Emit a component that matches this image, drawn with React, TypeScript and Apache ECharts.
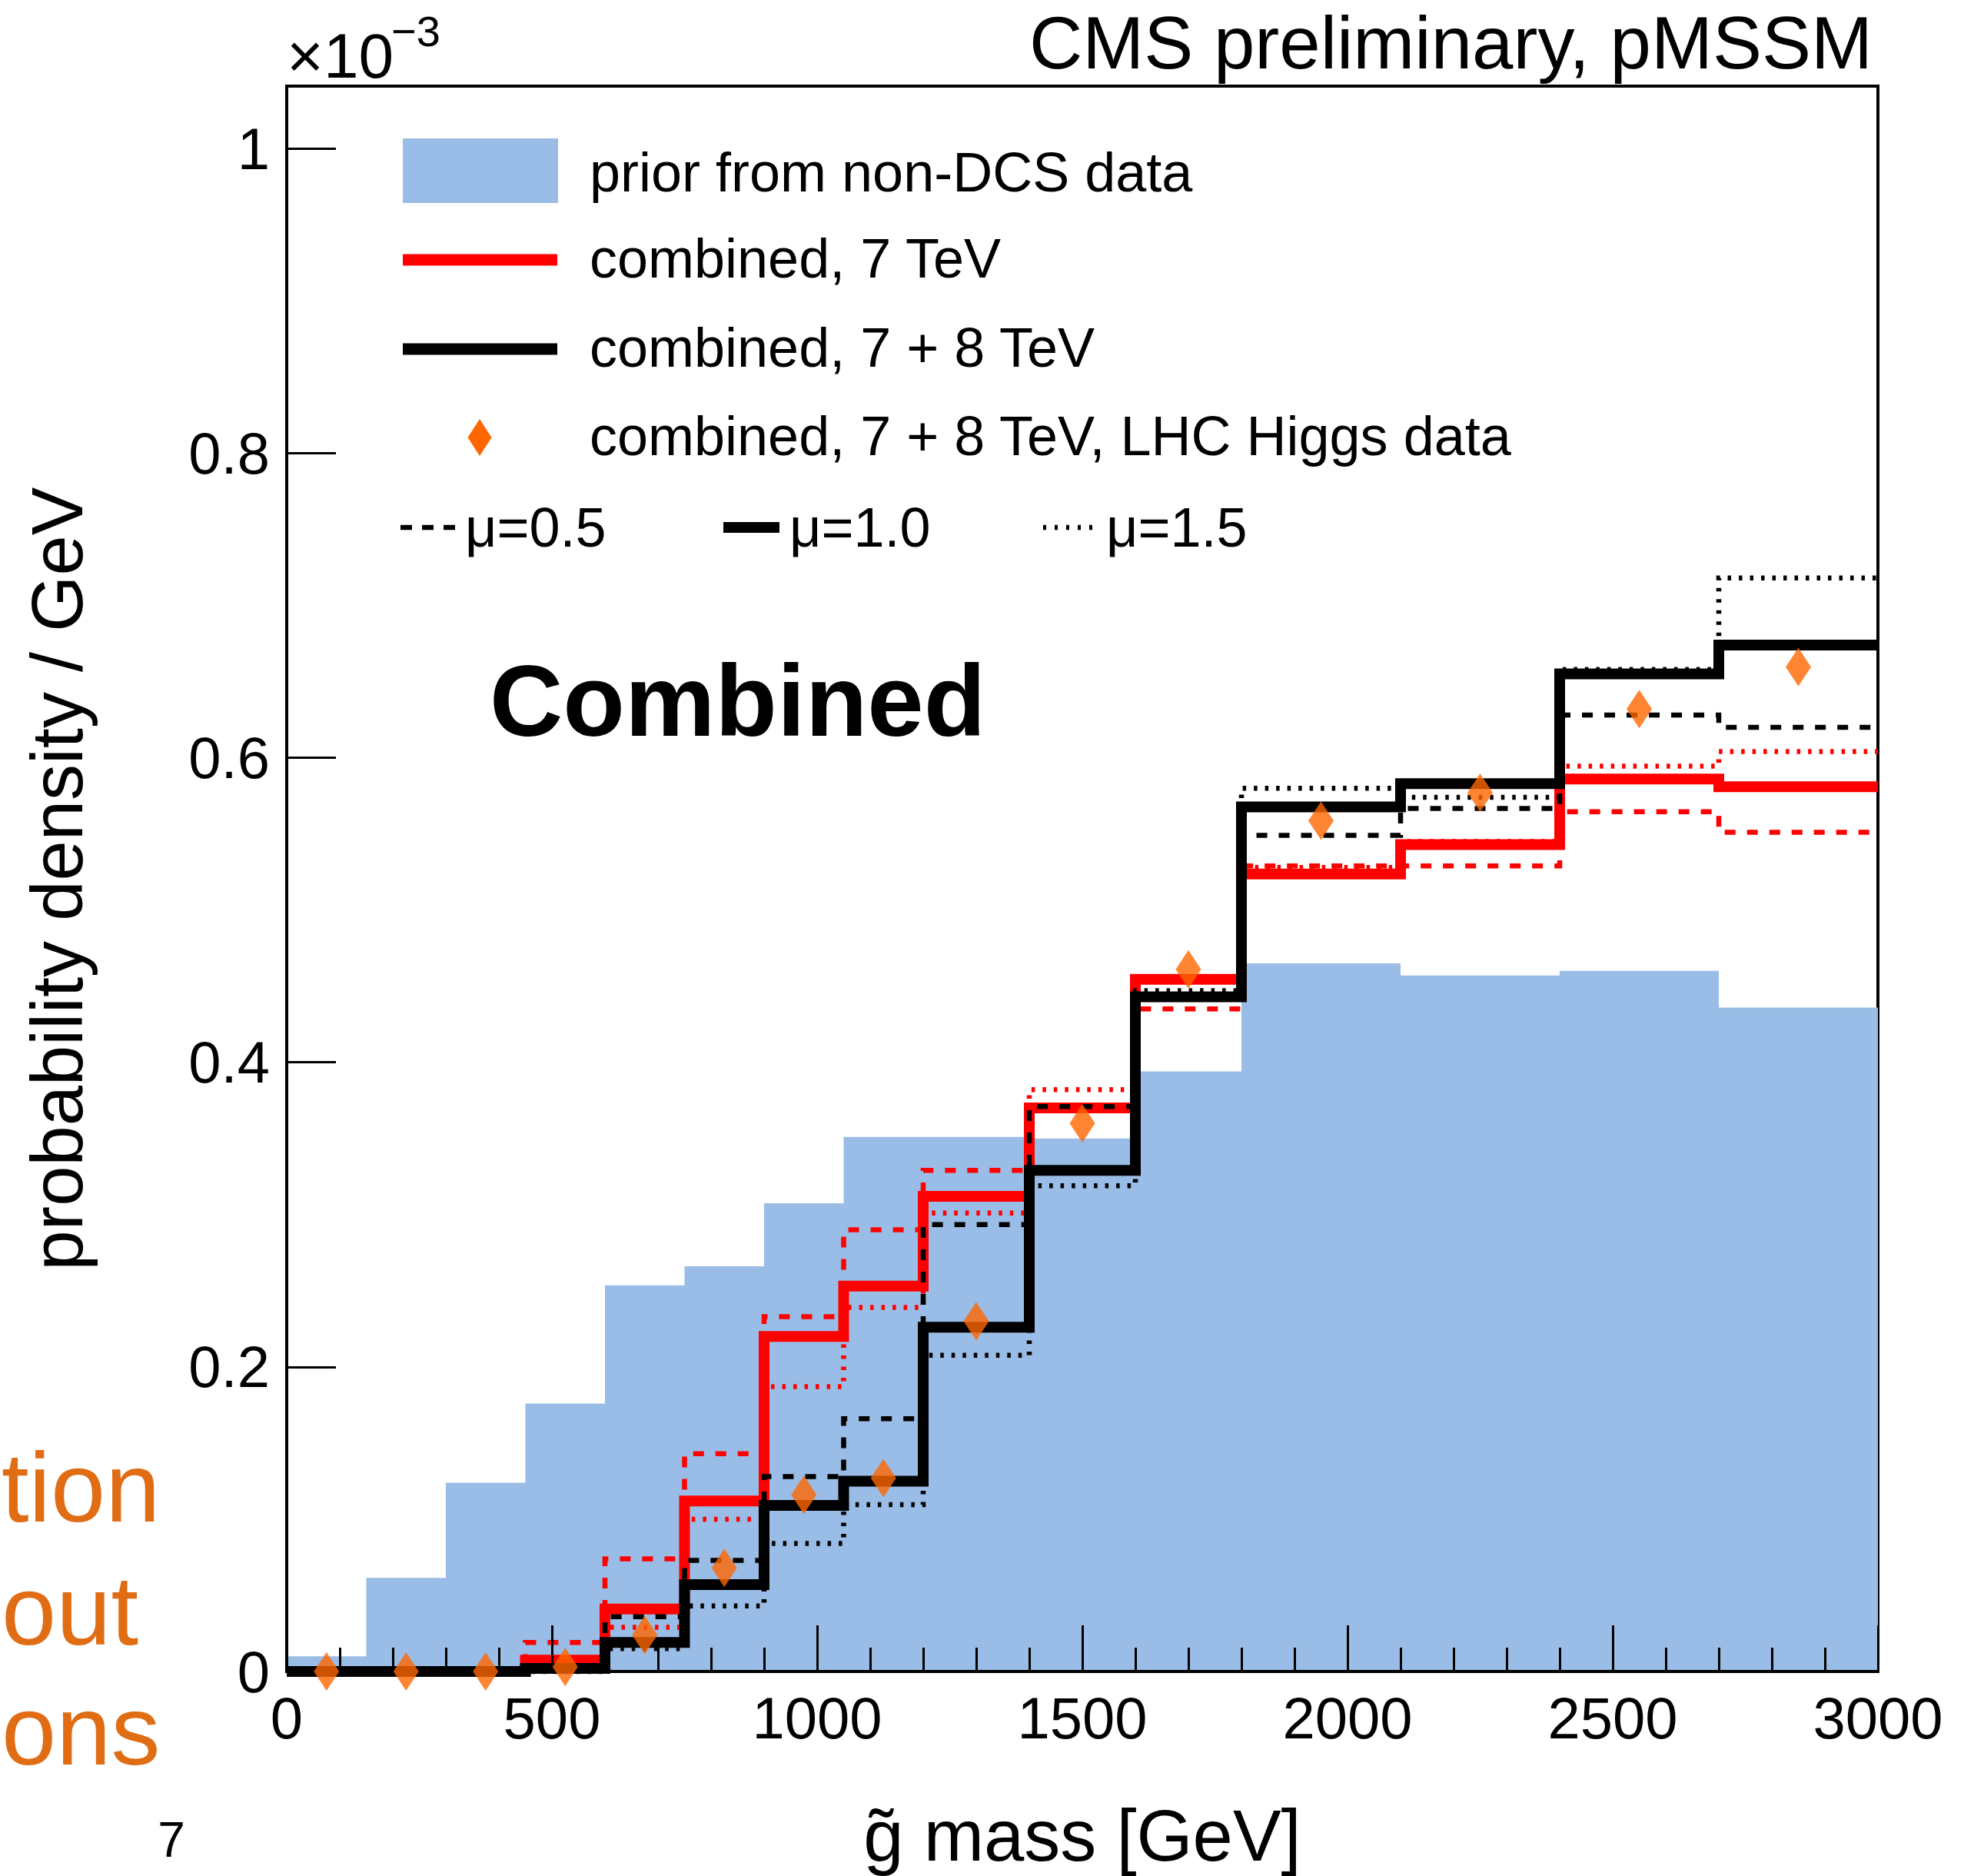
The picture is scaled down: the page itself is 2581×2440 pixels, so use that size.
import React, { useEffect, useRef } from "react";
import * as echarts from "echarts";

// ---------- data (values in units of 10^-3 / GeV) ----------
const BIN_EDGES = [0, 150, 300, 450, 600, 750, 900, 1050, 1200, 1400, 1600, 1800, 2100, 2400, 2700, 3000];

const PRIOR_NON_DCS = [0.010, 0.0615, 0.124, 0.176, 0.2535, 0.266, 0.3075, 0.351, 0.351, 0.350, 0.394, 0.465, 0.457, 0.460, 0.436];

const COMB_7_MU10 = [0, 0, 0, 0.0075, 0.041, 0.112, 0.220, 0.253, 0.312, 0.370, 0.4545, 0.5237, 0.543, 0.586, 0.581];
const COMB_7_MU05 = [0, 0, 0, 0.019, 0.074, 0.143, 0.233, 0.290, 0.329, 0.370, 0.435, 0.529, 0.529, 0.5646, 0.551];
const COMB_7_MU15 = [0, 0, 0, 0.005, 0.029, 0.100, 0.187, 0.239, 0.301, 0.382, 0.455, 0.528, 0.545, 0.5944, 0.604];

const COMB_78_MU10 = [0, 0, 0, 0.002, 0.019, 0.057, 0.109, 0.125, 0.226, 0.329, 0.443, 0.5677, 0.583, 0.655, 0.674];
const COMB_78_MU05 = [0, 0, 0, 0.003, 0.036, 0.073, 0.128, 0.166, 0.2935, 0.371, 0.442, 0.549, 0.5667, 0.628, 0.620];
const COMB_78_MU15 = [0, 0, 0, 0, 0.015, 0.043, 0.084, 0.1096, 0.2076, 0.319, 0.447, 0.580, 0.574, 0.658, 0.718];

const COMB_78_HIGGS = [0, 0, 0, 0.003, 0.024, 0.068, 0.116, 0.127, 0.230, 0.360, 0.461, 0.5586, 0.577, 0.632, 0.6596];

const X_MIN = 0;
const X_MAX = 3000;
const X_INTERVAL = 500;
const Y_MIN = 0;
const Y_MAX = 1.041;
const Y_INTERVAL = 0.2;

// ---------- helpers ----------
function stepPoints(vals: number[]): number[][] {
  const pts: number[][] = [];
  vals.forEach((v, i) => {
    pts.push([BIN_EDGES[i], v]);
    pts.push([BIN_EDGES[i + 1], v]);
  });
  return pts;
}
function centerPoints(vals: number[]): number[][] {
  return vals.map((v, i) => [(BIN_EDGES[i] + BIN_EDGES[i + 1]) / 2, v]);
}

const FONT = '"Liberation Sans", Arial, Helvetica, sans-serif';
const RED = "#ff0000";
const BLACK = "#000000";
const BLUE = "#99bde6";
const ORANGE = "#ff6600";
const SLIDE_ORANGE = "#e06c14";
const DASH = [14, 15];
const DOT = [4.5, 10];

function txt(text: string, x: number, y: number, size: number, opts: any = {}) {
  return {
    type: "text",
    x,
    y,
    rotation: opts.rotation || 0,
    z: 100,
    style: {
      text,
      fill: opts.color || "#000",
      font: `${opts.weight || "normal"} ${size}px ${FONT}`,
      fontSize: size,
      fontFamily: FONT,
      fontWeight: opts.weight || "normal",
      textAlign: opts.align || "left",
      align: opts.align || "left",
      textVerticalAlign: "middle",
      verticalAlign: "middle",
    },
  };
}
function seg(x1: number, x2: number, y: number, width: number, color: string, dash?: number[]) {
  return {
    type: "line",
    z: 100,
    shape: { x1, y1: y, x2, y2: y },
    style: { stroke: color, lineWidth: width, lineDash: dash || null },
  };
}

function lineSeries(name: string, vals: number[], color: string, width: number, dash?: number[]) {
  return {
    name,
    type: "line",
    data: stepPoints(vals),
    showSymbol: false,
    symbol: "none",
    clip: false,
    z: 2,
    lineStyle: { color, width, type: dash || "solid", join: "miter", cap: "butt" },
    emphasis: { disabled: true },
    silent: true,
  };
}

export default function App() {
  const ref = useRef<HTMLDivElement>(null);

  useEffect(() => {
    if (!ref.current) return;
    const chart = echarts.init(ref.current, null, { renderer: "svg" });

    const option: any = {
      animation: false,
      backgroundColor: "#ffffff",
      textStyle: { fontFamily: FONT },
      grid: {
        left: 373,
        right: 138,
        top: 112,
        bottom: 266,
        show: true,
        borderColor: "#000",
        borderWidth: 4,
        backgroundColor: "transparent",
        containLabel: false,
        outerBoundsMode: "none",
      },
      xAxis: {
        type: "value",
        min: X_MIN,
        max: X_MAX,
        interval: X_INTERVAL,
        z: 5,
        axisLine: { show: true, onZero: false, lineStyle: { color: "#000", width: 4 } },
        axisTick: { show: true, inside: true, length: 60, lineStyle: { color: "#000", width: 3 } },
        minorTick: { show: true, splitNumber: 5, length: 31, lineStyle: { color: "#000", width: 3 } },
        splitLine: { show: false },
        minorSplitLine: { show: false },
        axisLabel: {
          color: "#000",
          fontSize: 76,
          fontFamily: FONT,
          margin: 22,
          formatter: (v: number) => String(Math.round(v)),
        },
      },
      yAxis: {
        type: "value",
        min: Y_MIN,
        max: Y_MAX,
        interval: Y_INTERVAL,
        z: 5,
        axisLine: { show: true, onZero: false, lineStyle: { color: "#000", width: 4 } },
        axisTick: { show: true, inside: true, length: 64, lineStyle: { color: "#000", width: 3 } },
        splitLine: { show: false },
        showMaxLabel: false,
        axisLabel: {
          color: "#000",
          fontSize: 76,
          fontFamily: FONT,
          margin: 22,
          showMaxLabel: false,
          formatter: (v: number) => {
            const r = Math.round(v * 10) / 10;
            if (Math.abs(r - v) > 1e-6) return "";
            return String(r);
          },
        },
      },
      series: [
        {
          name: "prior from non-DCS data",
          type: "line",
          data: stepPoints(PRIOR_NON_DCS),
          showSymbol: false,
          symbol: "none",
          clip: true,
          z: 1,
          lineStyle: { width: 0, color: BLUE },
          areaStyle: { color: BLUE, opacity: 1 },
          silent: true,
        },
        lineSeries("combined, 7 TeV, μ=0.5", COMB_7_MU05, RED, 6.5, DASH),
        lineSeries("combined, 7 TeV", COMB_7_MU10, RED, 14),
        lineSeries("combined, 7 TeV, μ=1.5", COMB_7_MU15, RED, 6.5, DOT),
        lineSeries("combined, 7 + 8 TeV, μ=0.5", COMB_78_MU05, BLACK, 6.5, DASH),
        lineSeries("combined, 7 + 8 TeV", COMB_78_MU10, BLACK, 14),
        lineSeries("combined, 7 + 8 TeV, μ=1.5", COMB_78_MU15, BLACK, 6.5, DOT),
        {
          name: "combined, 7 + 8 TeV, LHC Higgs data",
          type: "scatter",
          data: centerPoints(COMB_78_HIGGS),
          symbol: "diamond",
          symbolSize: [33, 50],
          itemStyle: { color: ORANGE },
          z: 10,
          clip: false,
          silent: true,
        },
      ],
      graphic: [
        // titles
        txt("CMS preliminary, pMSSM", 2436, 55, 96, { align: "right" }),
        txt("×10", 373, 72, 82),
        txt("−3", 509, 40, 56),
        txt("g̃ mass [GeV]", 1408, 2387, 94, { align: "center" }),
        txt("probability density / GeV", 74, 1143, 94, { align: "center", rotation: Math.PI / 2 }),
        txt("Combined", 637, 911, 132, { weight: "bold" }),
        // legend
        { type: "rect", z: 100, shape: { x: 524, y: 180, width: 202, height: 84 }, style: { fill: BLUE } },
        txt("prior from non-DCS data", 767, 224, 72),
        seg(524, 725, 338, 15, RED),
        txt("combined, 7 TeV", 767, 336, 72),
        seg(524, 725, 454, 15, BLACK),
        txt("combined, 7 + 8 TeV", 767, 452, 72),
        {
          type: "polygon",
          z: 100,
          shape: { points: [[608.5, 569], [624, 545], [639.5, 569], [624, 593]] },
          style: { fill: ORANGE },
        },
        txt("combined, 7 + 8 TeV, LHC Higgs data", 767, 567, 72),
        seg(521, 596, 686, 6.5, BLACK, [15, 13]),
        txt("μ=0.5", 605, 686, 72),
        seg(941, 1014, 686, 14, BLACK),
        txt("μ=1.0", 1027, 686, 72),
        seg(1357, 1432, 686, 6.5, BLACK, [4, 11]),
        txt("μ=1.5", 1439, 686, 72),
        // slide remnants at the left edge (kept fully inside the page)
        txt("tion", 2, 1934, 128, { color: SLIDE_ORANGE }),
        txt("out", 2, 2094, 128, { color: SLIDE_ORANGE }),
        txt("ons", 2, 2250, 128, { color: SLIDE_ORANGE }),
        txt("7", 223, 2393, 64, { align: "center" }),
      ],
    };

    chart.setOption(option);
    return () => {
      chart.dispose();
    };
  }, []);

  return (
    <div
      ref={ref}
      style={{ position: "absolute", left: 0, top: 0, width: 2581, height: 2440, background: "#fff" }}
    />
  );
}
